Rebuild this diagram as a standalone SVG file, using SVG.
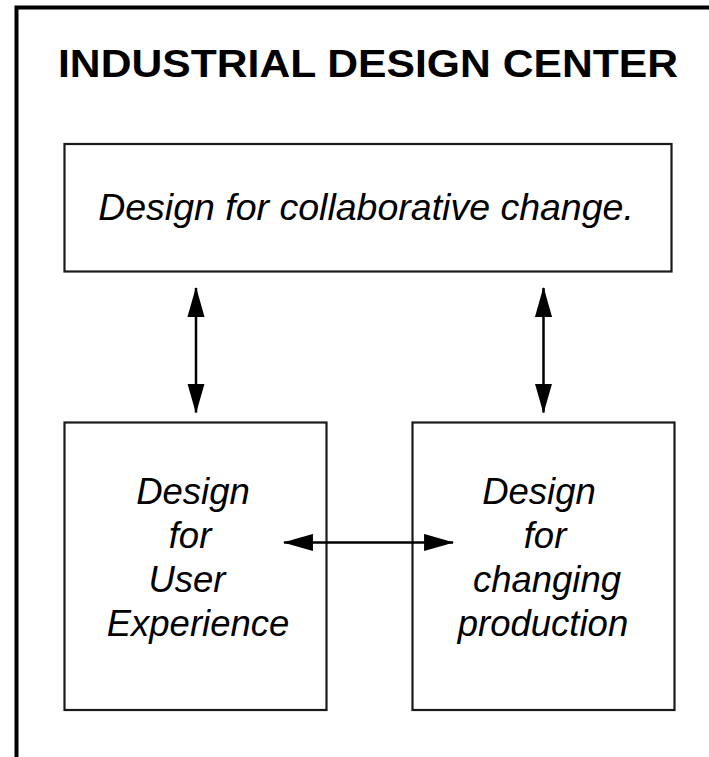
<svg xmlns="http://www.w3.org/2000/svg" width="709" height="757" viewBox="0 0 709 757">
<style>
.frame{fill:none;stroke:#000;stroke-width:4}
.box{fill:#fff;stroke:#1a1a1a;stroke-width:2.2}
.lbl{font-family:"Liberation Sans",Arial,sans-serif;font-style:italic;font-size:36.5px;fill:#000;text-anchor:middle}
.title{font-family:"Liberation Sans",Arial,sans-serif;font-weight:bold;font-size:38px;fill:#000}
.conn{stroke:#000;stroke-width:2.5;fill:none;marker-start:url(#ah);marker-end:url(#ah)}
</style>
<defs>
<marker id="ah" markerUnits="userSpaceOnUse" markerWidth="30" markerHeight="18" viewBox="0 0 28 16" refX="27" refY="8" orient="auto-start-reverse">
<path d="M0,0 L28,8 L0,16 Z" fill="#000"/>
</marker>
</defs>
<rect width="709" height="757" fill="#fff"/>
<path class="frame" d="M16.5,757 V7.5 H709"/>
<text class="title" x="58" y="77" textLength="620" lengthAdjust="spacingAndGlyphs">INDUSTRIAL DESIGN CENTER</text>
<g id="top">
<rect class="box" x="64.5" y="144" width="607" height="127.5"/>
<text class="lbl" x="366" y="220" style="font-size:37.5px">Design for collaborative change.</text>
</g>
<g id="ux">
<rect class="box" x="64.5" y="422.5" width="262" height="287.5"/>
<text class="lbl" x="193" y="504">Design</text>
<text class="lbl" x="190" y="548">for</text>
<text class="lbl" x="187" y="592">User</text>
<text class="lbl" x="198" y="636">Experience</text>
</g>
<g id="prod">
<rect class="box" x="412.5" y="422.5" width="262" height="287.5"/>
<text class="lbl" x="539" y="504">Design</text>
<text class="lbl" x="545" y="548">for</text>
<text class="lbl" x="547" y="592">changing</text>
<text class="lbl" x="543" y="636">production</text>
</g>
<g id="connectors">
<line class="conn" x1="196" y1="288" x2="196" y2="412.5"/>
<line class="conn" x1="543.5" y1="288" x2="543.5" y2="412.5"/>
<line class="conn" x1="284" y1="542.5" x2="453" y2="542.5"/>
</g>
</svg>
